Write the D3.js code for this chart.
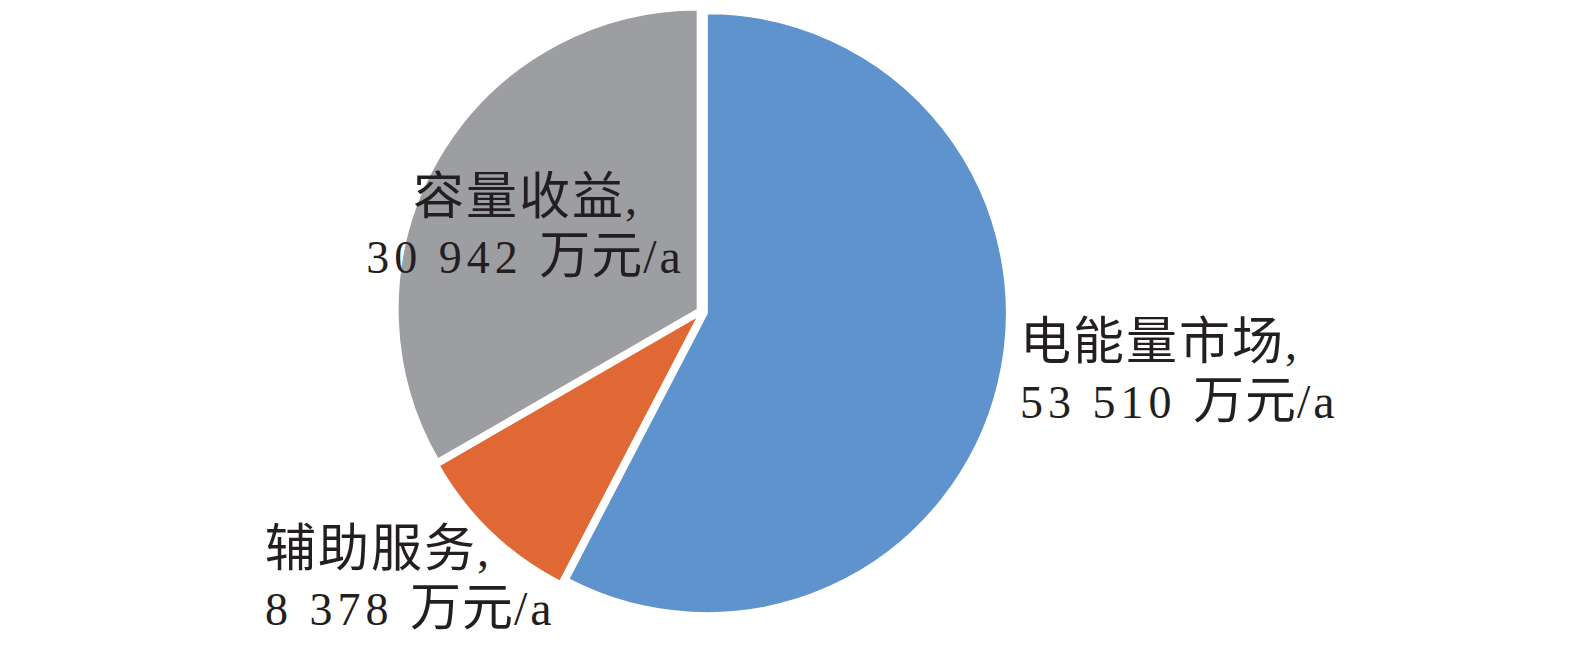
<!DOCTYPE html>
<html><head><meta charset="utf-8">
<script src="https://cdn.jsdelivr.net/npm/d3@7"></script>
<style>html,body{margin:0;padding:0;background:#fff;}svg{display:block;}</style>
</head><body>
<svg id="chart" width="1575" height="655"></svg>
<script>
// ---- data ----
const categories = ["电能量市场", "辅助服务", "容量收益"];
const values = [53510, 8378, 30942];
const unit = "万元/a";
const colors = ["#5F93CD", "#E06835", "#9D9EA2"];

// ---- layout ----
const cx = 702, cy = 312, R = 300, explode = 5;
const cjkFont = "'Noto Sans CJK SC', 'Noto Sans CJK JP', sans-serif";
const latFont = "'Liberation Serif', 'Times New Roman', serif";
// label layout per category: anchor x and baseline of the 2nd line
const labelLayout = [
  {x: 1020, y2: 418, align: "start"},
  {x: 265, y2: 625, align: "start"},
  {x: 525, y2: 273, align: "middle"}
];

const svg = d3.select("#chart");
const fmt = v => d3.format(",")(v).replace(/,/g, " ");

const pie = d3.pie().sort(null).value(d => d.value).startAngle(0).endAngle(2 * Math.PI);
const data = categories.map((c, i) => ({cat: c, value: values[i], color: colors[i]}));
const arcs = pie(data);
const arc = d3.arc().innerRadius(0).outerRadius(R);

const g = svg.append("g").attr("transform", `translate(${cx},${cy})`);
g.selectAll("path").data(arcs).join("path")
  .attr("d", arc)
  .attr("fill", d => d.data.color)
  .attr("stroke", "#fff").attr("stroke-width", 2)
  .attr("transform", d => {
    const mid = (d.startAngle + d.endAngle) / 2;
    return `translate(${Math.sin(mid) * explode},${-Math.cos(mid) * explode})`;
  });

// labels
arcs.forEach((d, i) => {
  const L = labelLayout[i];
  const l1 = svg.append("text").attr("text-anchor", L.align).attr("fill", "#231f20")
    .attr("x", L.x).attr("y", L.y2 - 59);
  l1.append("tspan").attr("font-family", cjkFont).attr("font-size", 51).attr("letter-spacing", 2).text(d.data.cat);
  l1.append("tspan").attr("font-family", latFont).attr("font-size", 48).text(",");
  const l2 = svg.append("text").attr("text-anchor", L.align).attr("fill", "#231f20")
    .attr("x", L.x).attr("y", L.y2);
  l2.append("tspan").attr("font-family", latFont).attr("font-size", 46).attr("letter-spacing", 5)
    .text(fmt(d.data.value) + " ");
  l2.append("tspan").attr("font-family", cjkFont).attr("font-size", 51).attr("letter-spacing", 1).text(unit.slice(0, 2));
  l2.append("tspan").attr("font-family", latFont).attr("font-size", 48).attr("letter-spacing", 3).text(unit.slice(2));
});
</script>
</body></html>
